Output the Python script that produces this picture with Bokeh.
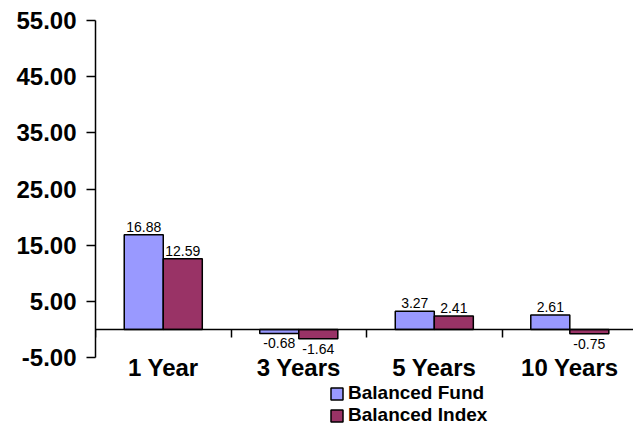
from bokeh.plotting import figure
from bokeh.models import (ColumnDataSource, Range1d, LinearAxis, FixedTicker,
                          NumeralTickFormatter, Legend, LegendItem)
from bokeh.core.properties import value
from bokeh.embed import file_html
from bokeh.resources import INLINE

categories = ["1 Year", "3 Years", "5 Years", "10 Years"]
fund = [16.88, -0.68, 3.27, 2.61]
index = [12.59, -1.64, 2.41, -0.75]
y_ticks = [-5, 5, 15, 25, 35, 45, 55]
series_names = ["Balanced Fund", "Balanced Index"]
colors = ["#9999FF", "#993366"]

FONT = "Liberation Sans"
pos = list(range(len(categories)))
bw = 0.288

p = figure(width=633, height=426, output_backend="svg", toolbar_location=None,
           x_range=Range1d(-0.5, 3.47), y_range=Range1d(-17.24, 55),
           min_border_left=95, min_border_right=0, min_border_top=20,
           min_border_bottom=0, x_axis_type=None, y_axis_type=None)
p.outline_line_color = None
p.xgrid.visible = False
p.ygrid.visible = False

renderers = []
for k, (vals, col) in enumerate(zip([fund, index], colors)):
    xs = [i + (k - 0.5) * bw for i in pos]
    src = ColumnDataSource(dict(x=xs, top=vals))
    r = p.vbar(x="x", top="top", bottom=0, width=bw, source=src,
               fill_color=col, line_color="black", line_width=1.5)
    renderers.append(r)
    pos_src = ColumnDataSource(dict(x=[x for x, v in zip(xs, vals) if v >= 0],
                                    y=[v for v in vals if v >= 0],
                                    t=["%.2f" % v for v in vals if v >= 0]))
    neg_src = ColumnDataSource(dict(x=[x for x, v in zip(xs, vals) if v < 0],
                                    y=[v for v in vals if v < 0],
                                    t=["%.2f" % v for v in vals if v < 0]))
    p.text(x="x", y="y", text="t", source=pos_src, text_align="center",
           text_baseline="bottom", y_offset=-3, text_font=value(FONT),
           text_font_size="14px", text_color="black")
    p.text(x="x", y="y", text="t", source=neg_src, text_align="center",
           text_baseline="top", y_offset=5, text_font=value(FONT),
           text_font_size="14px", text_color="black")

# y axis, drawn only between -5 and 55
yax = LinearAxis(ticker=FixedTicker(ticks=y_ticks, minor_ticks=[]),
                 formatter=NumeralTickFormatter(format="0.00"),
                 bounds=(y_ticks[0], y_ticks[-1]))
yax.axis_line_color = "black"
yax.axis_line_width = 1.5
yax.major_tick_out = 9
yax.major_tick_in = 0
yax.major_tick_line_width = 1.5
yax.major_label_standoff = 10
yax.major_label_text_font = FONT
yax.major_label_text_font_style = "bold"
yax.major_label_text_font_size = "24px"
yax.major_label_text_color = "black"
p.add_layout(yax, "left")

# x axis placed on zero line
xax = LinearAxis(ticker=FixedTicker(ticks=pos,
                                    minor_ticks=[i + 0.5 for i in pos] + [-0.5]),
                 fixed_location=0)
xax.major_label_overrides = {i: c for i, c in zip(pos, categories)}
xax.axis_line_color = "black"
xax.axis_line_width = 1.5
xax.major_tick_line_color = None
xax.major_tick_out = 0
xax.major_tick_in = 0
xax.minor_tick_out = 8
xax.minor_tick_in = 0
xax.minor_tick_line_color = "black"
xax.minor_tick_line_width = 1.5
xax.major_label_standoff = 16
xax.major_label_text_font = FONT
xax.major_label_text_font_style = "bold"
xax.major_label_text_font_size = "24px"
xax.major_label_text_color = "black"
p.add_layout(xax, "below")

legend = Legend(items=[LegendItem(label=n, renderers=[r])
                       for n, r in zip(series_names, renderers)],
                location=(234, 0), orientation="vertical",
                glyph_width=15, glyph_height=15, label_standoff=4,
                spacing=0, padding=0, margin=0,
                border_line_color=None, background_fill_alpha=0,
                label_text_font=FONT, label_text_font_style="bold",
                label_text_font_size="19px", label_height=17,
                label_text_color="black")
p.add_layout(legend, "center")

open("out.html", "w").write(file_html(p, INLINE))
